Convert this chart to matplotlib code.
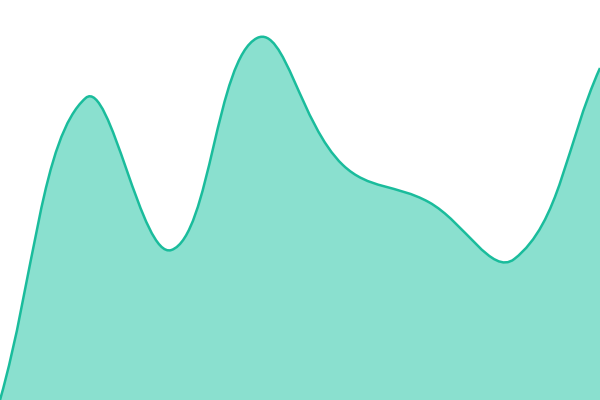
import numpy as np
import matplotlib
matplotlib.use('Agg')
import matplotlib.pyplot as plt
from matplotlib.path import Path
from matplotlib.patches import PathPatch

# values (pixel height above the bottom edge)
positions = [0, 1, 2, 3, 4, 5, 6, 7]
values = [0, 302, 150, 362, 235, 198, 141, 332]

line_color = '#1abc9c'
fill_color = '#8ae0cf'
width, height = 600, 400
tension = 0.4


def spline_path(xs, ys):
    # distance weighted spline control points
    pts = np.column_stack([xs, ys]).astype(float)
    n = len(pts)
    before, after = [], []
    for i in range(n):
        cur = pts[i]
        prev = pts[i - 1] if i > 0 else cur
        nxt = pts[i + 1] if i < n - 1 else cur
        d01 = np.linalg.norm(cur - prev)
        d12 = np.linalg.norm(nxt - cur)
        tot = d01 + d12
        s01 = d01 / tot if tot else 0
        s12 = d12 / tot if tot else 0
        before.append(cur - tension * s01 * (nxt - prev))
        after.append(cur + tension * s12 * (nxt - prev))
    verts = [tuple(pts[0])]
    codes = [Path.MOVETO]
    for i in range(n - 1):
        verts += [tuple(after[i]), tuple(before[i + 1]), tuple(pts[i + 1])]
        codes += [Path.CURVE4] * 3
    return verts, codes


px = np.array(positions) * width / (len(positions) - 1)
verts, codes = spline_path(px, values)

fig = plt.figure(figsize=(6, 4), dpi=100)
ax = fig.add_axes([0, 0, 1, 1])

area_verts = verts + [(px[-1], 0), (px[0], 0), verts[0]]
area_codes = codes + [Path.LINETO, Path.LINETO, Path.CLOSEPOLY]
ax.add_patch(PathPatch(Path(area_verts, area_codes), facecolor=fill_color,
                       edgecolor='none'))
ax.add_patch(PathPatch(Path(verts, codes), facecolor='none',
                       edgecolor=line_color, linewidth=1.8))

ax.set_xlim(0, width)
ax.set_ylim(0, height)
ax.axis('off')

fig.savefig('out.png', dpi=100, facecolor='white')
